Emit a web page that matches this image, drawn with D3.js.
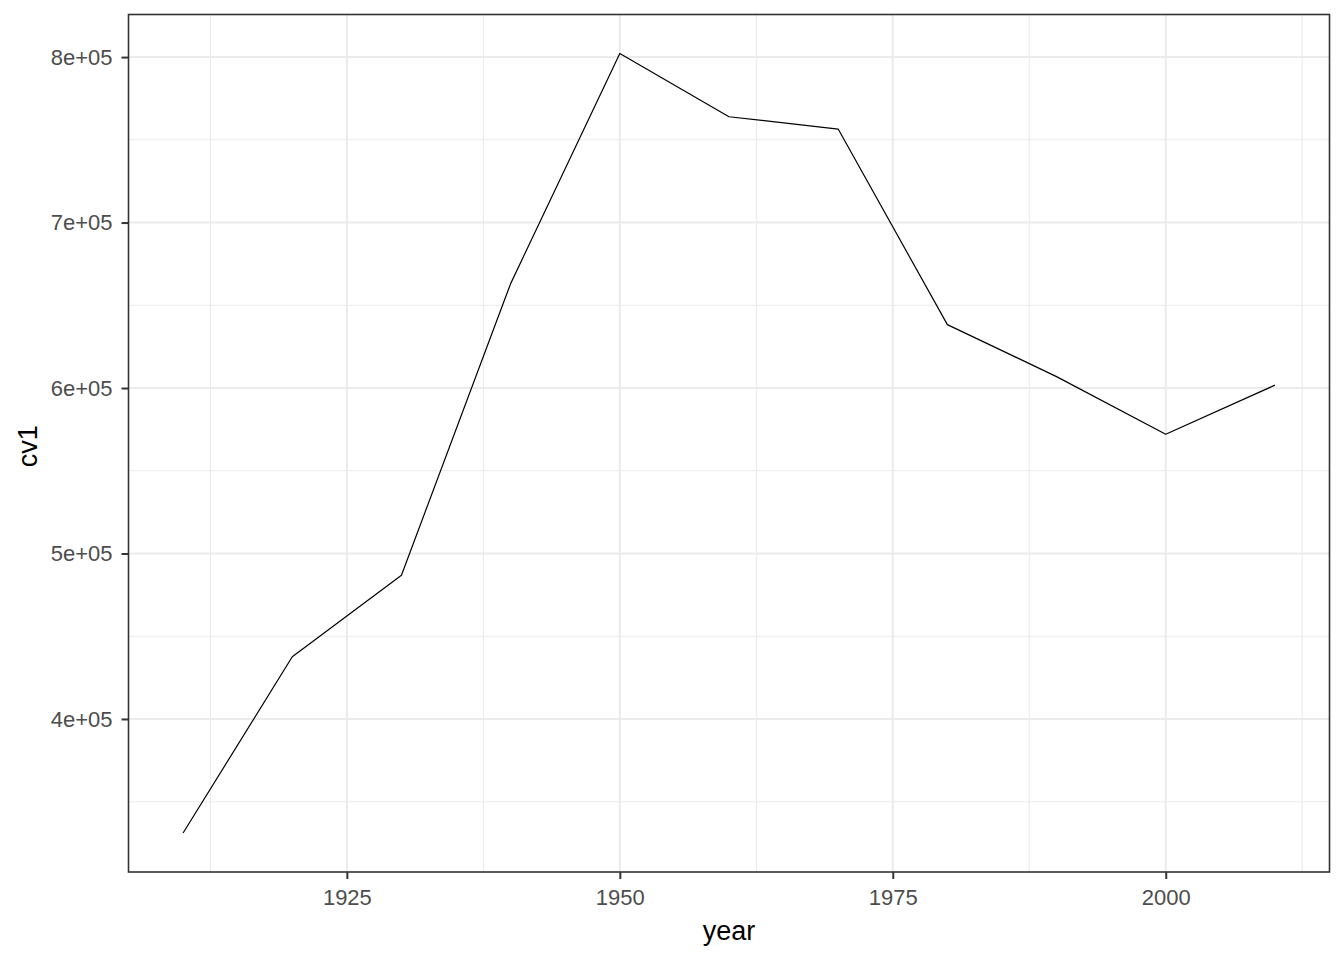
<!DOCTYPE html>
<html>
<head>
<meta charset="utf-8">
<script src="https://cdn.jsdelivr.net/npm/d3@7"></script>
<style>
  html, body { margin: 0; padding: 0; background: #fff; }
  svg { display: block; }
  text { font-family: "Liberation Sans", Arial, sans-serif; }
</style>
</head>
<body>
<svg id="chart" width="1344" height="960"></svg>
<script>
const years = [1910, 1920, 1930, 1940, 1950, 1960, 1970, 1980, 1990, 2000, 2010];
const cv1 = [331069, 437571, 486869, 663091, 802178, 763956, 756510, 638333, 606900, 572059, 601723];
const xTicks = [1925, 1950, 1975, 2000];
const xMinor = [1912.5, 1937.5, 1962.5, 1987.5, 2012.5];
const yTicks = [400000, 500000, 600000, 700000, 800000];
const yTickLabels = ["4e+05", "5e+05", "6e+05", "7e+05", "8e+05"];
const yMinor = [350000, 450000, 550000, 650000, 750000];
const xTitle = "year";
const yTitle = "cv1";

(function () {
const pL = 128.5, pR = 1329.5, pT = 14.5, pB = 872;

const svg = d3.select("#chart");

const xExt = d3.extent(years), xPad = (xExt[1] - xExt[0]) * 0.05;
const yExt = d3.extent(cv1), yPad = (yExt[1] - yExt[0]) * 0.05;
const x = d3.scaleLinear().domain([xExt[0] - xPad, xExt[1] + xPad]).range([pL, pR]);
const y = d3.scaleLinear().domain([yExt[0] - yPad, yExt[1] + yPad]).range([pB, pT]);

svg.append("rect").attr("x", pL).attr("y", pT).attr("width", pR - pL).attr("height", pB - pT).attr("fill", "#fff");

const grid = svg.append("g");
grid.selectAll("line.xmin").data(xMinor).join("line")
  .attr("x1", d => x(d)).attr("x2", d => x(d)).attr("y1", pT).attr("y2", pB)
  .attr("stroke", "#EBEBEB").attr("stroke-width", 1.1);
grid.selectAll("line.ymin").data(yMinor).join("line")
  .attr("y1", d => y(d)).attr("y2", d => y(d)).attr("x1", pL).attr("x2", pR)
  .attr("stroke", "#EBEBEB").attr("stroke-width", 1.1);
grid.selectAll("line.xmaj").data(xTicks).join("line")
  .attr("x1", d => x(d)).attr("x2", d => x(d)).attr("y1", pT).attr("y2", pB)
  .attr("stroke", "#EBEBEB").attr("stroke-width", 2);
grid.selectAll("line.ymaj").data(yTicks).join("line")
  .attr("y1", d => y(d)).attr("y2", d => y(d)).attr("x1", pL).attr("x2", pR)
  .attr("stroke", "#EBEBEB").attr("stroke-width", 2);

const line = d3.line().x((d, i) => x(years[i])).y(d => y(d));
svg.append("path").datum(cv1).attr("d", line)
  .attr("fill", "none").attr("stroke", "#000").attr("stroke-width", 1.2)
  .attr("stroke-linejoin", "round");

svg.append("rect").attr("x", pL).attr("y", pT).attr("width", pR - pL).attr("height", pB - pT)
  .attr("fill", "none").attr("stroke", "#333333").attr("stroke-width", 1.6);

const xAxis = d3.axisBottom(x).tickValues(xTicks).tickFormat(d3.format("d")).tickSize(7).tickPadding(10);
const gx = svg.append("g").attr("transform", `translate(0,${pB})`).call(xAxis);
gx.select(".domain").remove();
gx.selectAll(".tick line").attr("stroke", "#333333").attr("stroke-width", 2);
gx.selectAll(".tick text").attr("fill", "#4D4D4D").attr("font-size", 22).attr("font-family", "Liberation Sans, Arial, sans-serif");

const yAxis = d3.axisLeft(y).tickValues(yTicks).tickFormat((d, i) => yTickLabels[i]).tickSize(7).tickPadding(9);
const gy = svg.append("g").attr("transform", `translate(${pL},0)`).call(yAxis);
gy.select(".domain").remove();
gy.selectAll(".tick line").attr("stroke", "#333333").attr("stroke-width", 2);
gy.selectAll(".tick text").attr("fill", "#4D4D4D").attr("font-size", 22).attr("font-family", "Liberation Sans, Arial, sans-serif");

svg.append("text").attr("x", (pL + pR) / 2).attr("y", 940)
  .attr("text-anchor", "middle").attr("font-size", 27).attr("fill", "#000").text(xTitle);
svg.append("text").attr("transform", `translate(37,${(pT + pB) / 2 + 3}) rotate(-90)`)
  .attr("text-anchor", "middle").attr("font-size", 27).attr("fill", "#000").text(yTitle);
})();
</script>
</body>
</html>
